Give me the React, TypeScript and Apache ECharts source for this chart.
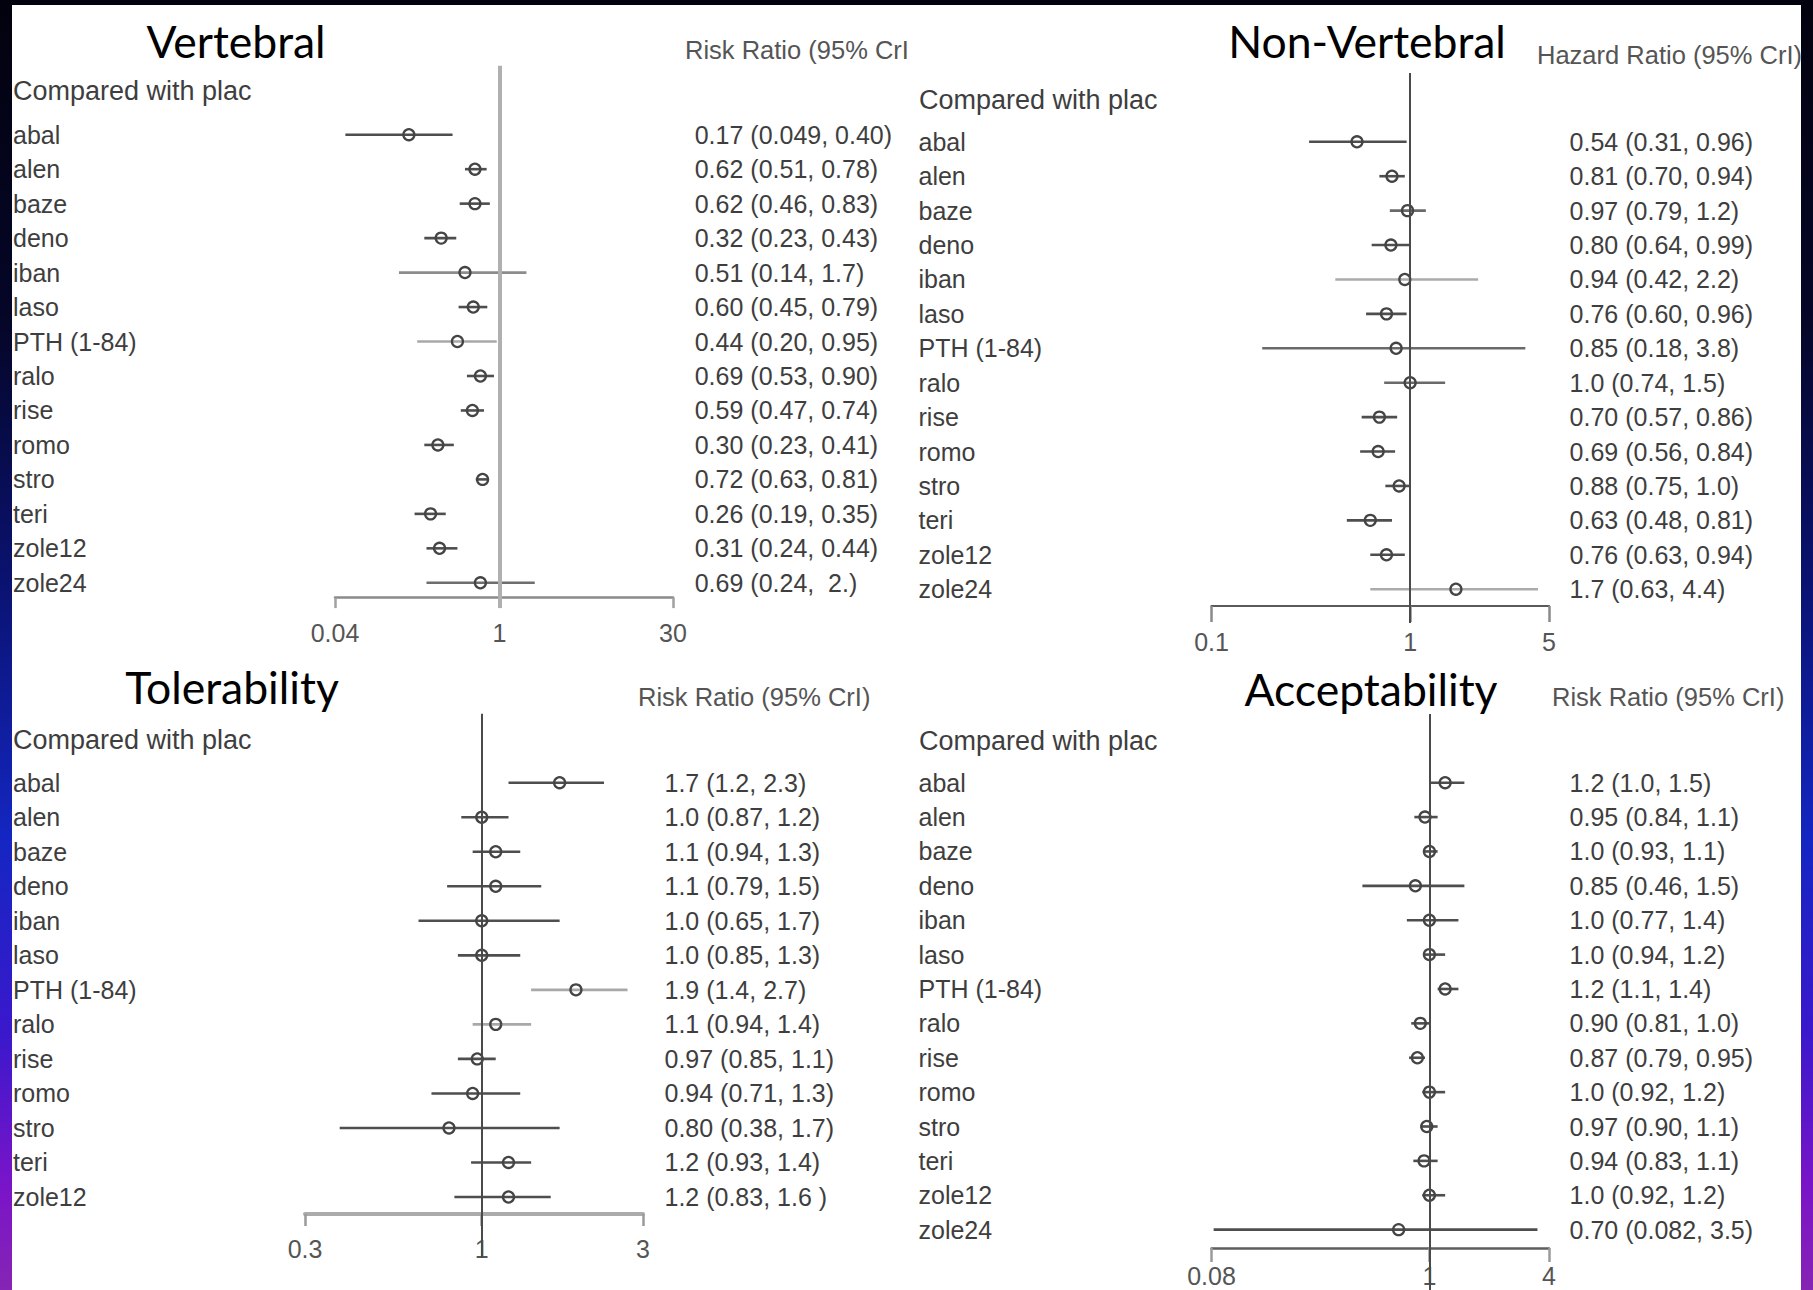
import React, { useEffect, useRef } from "react";
import * as echarts from "echarts";

// ---------- data ----------
const drugs = ["abal", "alen", "baze", "deno", "iban", "laso", "PTH (1-84)", "ralo", "rise", "romo", "stro", "teri", "zole12", "zole24"];
const tolDrugs = ["abal", "alen", "baze", "deno", "iban", "laso", "PTH (1-84)", "ralo", "rise", "romo", "stro", "teri", "zole12"];

const vertEst = [0.17, 0.62, 0.62, 0.32, 0.51, 0.60, 0.44, 0.69, 0.59, 0.30, 0.72, 0.26, 0.31, 0.69];
const vertLow = [0.049, 0.51, 0.46, 0.23, 0.14, 0.45, 0.20, 0.53, 0.47, 0.23, 0.63, 0.19, 0.24, 0.24];
const vertHigh = [0.40, 0.78, 0.83, 0.43, 1.7, 0.79, 0.95, 0.90, 0.74, 0.41, 0.81, 0.35, 0.44, 2.0];
const vertText = ["0.17 (0.049, 0.40)", "0.62 (0.51, 0.78)", "0.62 (0.46, 0.83)", "0.32 (0.23, 0.43)", "0.51 (0.14, 1.7)", "0.60 (0.45, 0.79)", "0.44 (0.20, 0.95)", "0.69 (0.53, 0.90)", "0.59 (0.47, 0.74)", "0.30 (0.23, 0.41)", "0.72 (0.63, 0.81)", "0.26 (0.19, 0.35)", "0.31 (0.24, 0.44)", "0.69 (0.24,  2.)"];
const vertTicks = [0.04, 1, 30];
const vertTickLabels = ["0.04", "1", "30"];

const nonVertEst = [0.54, 0.81, 0.97, 0.80, 0.94, 0.76, 0.85, 1.0, 0.70, 0.69, 0.88, 0.63, 0.76, 1.7];
const nonVertLow = [0.31, 0.70, 0.79, 0.64, 0.42, 0.60, 0.18, 0.74, 0.57, 0.56, 0.75, 0.48, 0.63, 0.63];
const nonVertHigh = [0.96, 0.94, 1.2, 0.99, 2.2, 0.96, 3.8, 1.5, 0.86, 0.84, 1.0, 0.81, 0.94, 4.4];
const nonVertText = ["0.54 (0.31, 0.96)", "0.81 (0.70, 0.94)", "0.97 (0.79, 1.2)", "0.80 (0.64, 0.99)", "0.94 (0.42, 2.2)", "0.76 (0.60, 0.96)", "0.85 (0.18, 3.8)", "1.0 (0.74, 1.5)", "0.70 (0.57, 0.86)", "0.69 (0.56, 0.84)", "0.88 (0.75, 1.0)", "0.63 (0.48, 0.81)", "0.76 (0.63, 0.94)", "1.7 (0.63, 4.4)"];
const nonVertTicks = [0.1, 1, 5];
const nonVertTickLabels = ["0.1", "1", "5"];

const tolEst = [1.7, 1.0, 1.1, 1.1, 1.0, 1.0, 1.9, 1.1, 0.97, 0.94, 0.80, 1.2, 1.2];
const tolLow = [1.2, 0.87, 0.94, 0.79, 0.65, 0.85, 1.4, 0.94, 0.85, 0.71, 0.38, 0.93, 0.83];
const tolHigh = [2.3, 1.2, 1.3, 1.5, 1.7, 1.3, 2.7, 1.4, 1.1, 1.3, 1.7, 1.4, 1.6];
const tolText = ["1.7 (1.2, 2.3)", "1.0 (0.87, 1.2)", "1.1 (0.94, 1.3)", "1.1 (0.79, 1.5)", "1.0 (0.65, 1.7)", "1.0 (0.85, 1.3)", "1.9 (1.4, 2.7)", "1.1 (0.94, 1.4)", "0.97 (0.85, 1.1)", "0.94 (0.71, 1.3)", "0.80 (0.38, 1.7)", "1.2 (0.93, 1.4)", "1.2 (0.83, 1.6 )"];
const tolTicks = [0.3, 1, 3];
const tolTickLabels = ["0.3", "1", "3"];

const accEst = [1.2, 0.95, 1.0, 0.85, 1.0, 1.0, 1.2, 0.90, 0.87, 1.0, 0.97, 0.94, 1.0, 0.70];
const accLow = [1.0, 0.84, 0.93, 0.46, 0.77, 0.94, 1.1, 0.81, 0.79, 0.92, 0.90, 0.83, 0.92, 0.082];
const accHigh = [1.5, 1.1, 1.1, 1.5, 1.4, 1.2, 1.4, 1.0, 0.95, 1.2, 1.1, 1.1, 1.2, 3.5];
const accText = ["1.2 (1.0, 1.5)", "0.95 (0.84, 1.1)", "1.0 (0.93, 1.1)", "0.85 (0.46, 1.5)", "1.0 (0.77, 1.4)", "1.0 (0.94, 1.2)", "1.2 (1.1, 1.4)", "0.90 (0.81, 1.0)", "0.87 (0.79, 0.95)", "1.0 (0.92, 1.2)", "0.97 (0.90, 1.1)", "0.94 (0.83, 1.1)", "1.0 (0.92, 1.2)", "0.70 (0.082, 3.5)"];
const accTicks = [0.08, 1, 4];
const accTickLabels = ["0.08", "1", "4"];

const titles = ["Vertebral", "Non-Vertebral", "Tolerability", "Acceptability"];
const headers = ["Risk Ratio (95% CrI", "Hazard Ratio (95% CrI)", "Risk Ratio (95% CrI)", "Risk Ratio (95% CrI)"];
const subHeader = "Compared with plac";

// ---------- layout & style ----------
const LABEL_FONT = '"Liberation Sans", Arimo, Arial, sans-serif';
const TITLE_FONT = 'Lato, "Open Sans", sans-serif';

const panels = [
  {
    names: drugs, est: vertEst, low: vertLow, high: vertHigh, text: vertText, ticks: vertTicks, tickLabels: vertTickLabels,
    titleX: 236, titleY: 40, headerX: 685, headerY: 50, subX: 13, subY: 91,
    left: 335, width: 338, y0: 134.7, step: 34.47, bottom: 608, axisY: 597.6, tickLen: 10.5, labelMargin: 23,
    refColor: "#b0b0b0", refWidth: 4, axisColor: "#8a8a8a", axisWidth: 2.5, tickColor: "#a0a0a0",
    nameMargin: 322, valueMargin: 21.7,
    ciColors: { 4: "#8c8c8c", 6: "#a8a8a8", 13: "#6e6e6e" } as Record<number, string>,
  },
  {
    names: drugs, est: nonVertEst, low: nonVertLow, high: nonVertHigh, text: nonVertText, ticks: nonVertTicks, tickLabels: nonVertTickLabels,
    titleX: 1367, titleY: 40, headerX: 1537, headerY: 55, subX: 919, subY: 100,
    left: 1211.5, width: 337.5, y0: 141.8, step: 34.415, bottom: 623, axisY: 606, tickLen: 16, labelMargin: 23,
    refColor: "#4a4a4a", refWidth: 2, axisColor: "#5a5a5a", axisWidth: 2.2, tickColor: "#8a8a8a",
    nameMargin: 293, valueMargin: 20.6,
    ciColors: { 2: "#6a6a6a", 4: "#ababab", 6: "#6a6a6a", 7: "#6a6a6a", 13: "#ababab" } as Record<number, string>,
  },
  {
    names: tolDrugs, est: tolEst, low: tolLow, high: tolHigh, text: tolText, ticks: tolTicks, tickLabels: tolTickLabels,
    titleX: 232, titleY: 686, headerX: 638, headerY: 697, subX: 13, subY: 740,
    left: 305, width: 338, y0: 782.7, step: 34.525, bottom: 1258, axisY: 1214, tickLen: 12, labelMargin: 22,
    refColor: "#4a4a4a", refWidth: 2, axisColor: "#ababab", axisWidth: 4, tickColor: "#9a9a9a",
    nameMargin: 292, valueMargin: 21.5,
    ciColors: { 6: "#a8a8a8", 7: "#a8a8a8" } as Record<number, string>,
  },
  {
    names: drugs, est: accEst, low: accLow, high: accHigh, text: accText, ticks: accTicks, tickLabels: accTickLabels,
    titleX: 1371, titleY: 688, headerX: 1552, headerY: 697, subX: 919, subY: 741,
    left: 1211.5, width: 337.5, y0: 782.7, step: 34.38, bottom: 1290, axisY: 1248, tickLen: 14, labelMargin: 15,
    refColor: "#4a4a4a", refWidth: 2, axisColor: "#5e5e5e", axisWidth: 2.5, tickColor: "#9a9a9a",
    nameMargin: 293, valueMargin: 20.6,
    ciColors: {} as Record<number, string>,
  },
];

function buildOption() {
  const grid: any[] = [];
  const xAxis: any[] = [];
  const yAxis: any[] = [];
  const series: any[] = [];
  const graphic: any[] = [];

  panels.forEach((p, k) => {
    const top = p.y0 - 2 * p.step;
    const max = (p.bottom - p.y0) / p.step;
    grid.push({ left: p.left, width: p.width, top, height: p.bottom - top, containLabel: false, outerBoundsMode: "none" });

    const fmtTick = (v: number) => {
      const idx = p.ticks.findIndex((t) => Math.abs(Math.log(t) - Math.log(v)) < 1e-6);
      return idx >= 0 ? p.tickLabels[idx] : "";
    };
    xAxis.push({
      type: "log",
      gridIndex: k,
      logBase: 10,
      min: p.ticks[0],
      max: p.ticks[p.ticks.length - 1],
      position: "bottom",
      offset: p.axisY - p.bottom,
      axisLine: { show: true, onZero: false, lineStyle: { color: p.axisColor, width: p.axisWidth } },
      axisTick: { show: true, inside: false, length: p.tickLen, customValues: p.ticks, lineStyle: { color: p.tickColor, width: 2.5 } },
      minorTick: { show: false },
      splitLine: { show: false },
      axisLabel: {
        show: true, customValues: p.ticks, formatter: fmtTick, margin: p.labelMargin,
        fontSize: 25, fontFamily: LABEL_FONT, color: "#555555",
      },
    });

    const yBase = {
      type: "value",
      gridIndex: k,
      inverse: true,
      min: -2,
      max,
      interval: 1,
      axisLine: { show: false, onZero: false },
      axisTick: { show: false },
      splitLine: { show: false },
    };
    yAxis.push({
      ...yBase,
      position: "left",
      axisLabel: {
        show: true, align: "left", margin: p.nameMargin, fontSize: 25, fontFamily: LABEL_FONT, color: "#3e3e3e",
        showMinLabel: true, showMaxLabel: true,
        formatter: (v: number) => (Number.isInteger(v) && p.names[v] !== undefined ? p.names[v] : ""),
      },
    });
    yAxis.push({
      ...yBase,
      position: "right",
      axisLabel: {
        show: true, align: "left", margin: p.valueMargin, fontSize: 25, fontFamily: LABEL_FONT, color: "#3e3e3e",
        showMinLabel: true, showMaxLabel: true,
        formatter: (v: number) => (Number.isInteger(v) && p.text[v] !== undefined ? p.text[v] : ""),
      },
    });

    series.push({
      type: "custom",
      xAxisIndex: k,
      yAxisIndex: 2 * k,
      clip: false,
      encode: { x: [0, 1], y: 2 },
      data: p.low.map((lo, i) => [lo, p.high[i], i]),
      renderItem: (params: any, api: any) => {
        const y = api.value(2);
        const a = api.coord([api.value(0), y]);
        const b = api.coord([api.value(1), y]);
        const c = p.ciColors[params.dataIndex] || "#4e4e4e";
        return {
          type: "line",
          shape: { x1: a[0], y1: a[1], x2: b[0], y2: b[1] },
          style: { stroke: c, lineWidth: 2.6 },
        };
      },
      z: 2,
    });
    series.push({
      type: "scatter",
      xAxisIndex: k,
      yAxisIndex: 2 * k,
      data: p.est.map((v, i) => [v, i]),
      symbol: "circle",
      symbolSize: 11,
      itemStyle: { color: "rgba(255,255,255,0)", borderColor: "#444444", borderWidth: 2.3, opacity: 1 },
      emphasis: { disabled: true },
      z: 3,
      markLine: {
        silent: true,
        symbol: ["none", "none"],
        label: { show: false },
        lineStyle: { color: p.refColor, width: p.refWidth, type: "solid" },
        emphasis: { disabled: true },
        data: [{ xAxis: 1 }],
      },
    });

    graphic.push({
      type: "text", x: p.titleX, y: p.titleY, silent: true,
      style: { text: titles[k], fontSize: 44.5, fontFamily: TITLE_FONT, fill: "#000000", align: "center", verticalAlign: "middle" },
    });
    graphic.push({
      type: "text", x: p.headerX, y: p.headerY, silent: true,
      style: { text: headers[k], fontSize: 25.5, fontFamily: LABEL_FONT, fill: "#555555", align: "left", verticalAlign: "middle" },
    });
    graphic.push({
      type: "text", x: p.subX, y: p.subY, silent: true,
      style: { text: subHeader, fontSize: 27, fontFamily: LABEL_FONT, fill: "#3e3e3e", align: "left", verticalAlign: "middle" },
    });
  });

  return { animation: false, backgroundColor: "transparent", grid, xAxis, yAxis, series, graphic };
}

export default function App() {
  const ref = useRef<HTMLDivElement>(null);
  useEffect(() => {
    if (!ref.current) return;
    const chart = echarts.init(ref.current, undefined, { renderer: "svg" });
    chart.setOption(buildOption() as any);
    return () => chart.dispose();
  }, []);
  return (
    <div
      style={{
        position: "absolute", left: 0, top: 0, width: 1813, height: 1290, overflow: "hidden",
        background: "linear-gradient(to bottom, #02020e 0%, #050628 25%, #0a1270 45%, #1426c2 65%, #3a18cc 80%, #7a14c8 92%, #8624b4 100%)",
      }}
    >
      <div style={{ position: "absolute", left: 12, top: 5, width: 1789, height: 1285, background: "#ffffff" }} />
      <div ref={ref} style={{ position: "absolute", left: 0, top: 0, width: 1813, height: 1290 }} />
    </div>
  );
}
